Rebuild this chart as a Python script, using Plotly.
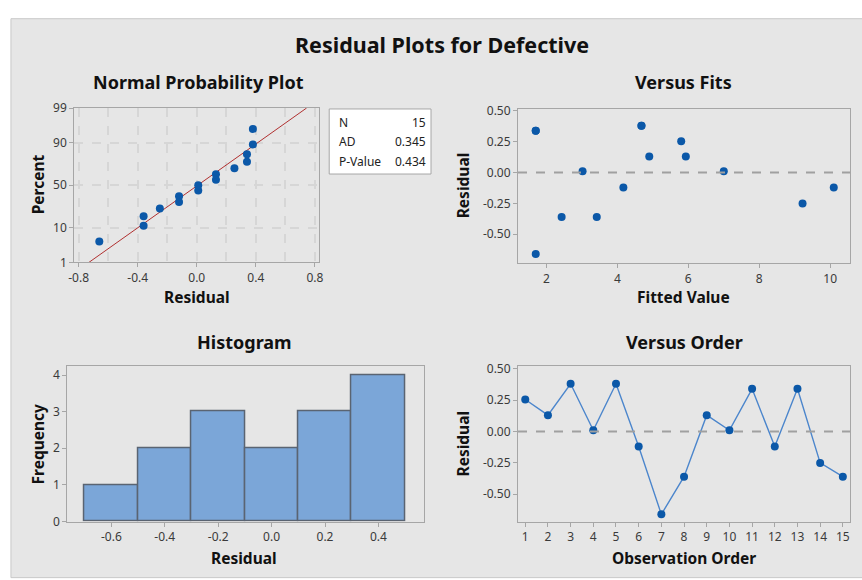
import plotly.graph_objects as go
from statistics import NormalDist, mean, stdev

# ---------------- data ----------------
order = list(range(1, 16))
residuals = [0.255, 0.13, 0.38, 0.01, 0.38, -0.12, -0.66, -0.36, 0.13, 0.01, 0.34, -0.12, 0.34, -0.25, -0.36]
fitted = [5.80, 4.90, 4.68, 3.02, 4.68, 4.17, 1.70, 2.43, 5.93, 7.00, 1.70, 10.10, 1.70, 9.22, 3.42]
prob_percent = [4.5, 11.0, 17.5, 24.0, 30.5, 37.0, 43.5, 50.0, 56.5, 63.0, 69.5, 76.0, 82.5, 89.0, 95.5]
pct_ticks = [1, 10, 50, 90, 99]
stats_labels = ["N", "AD", "P-Value"]
stats_values = ["15", "0.345", "0.434"]

W, H = 862, 580
nd = NormalDist()


def px(x):
    return x / W


def py(y):
    return 1 - y / H


def fmt(v, d):
    return f"{v:.{d}f}"


BLUE = "#0B58A8"
TICKFONT = dict(family="Noto Sans, Open Sans, sans-serif", size=12, color="#3A3A3A")
TITLEFONT = "Noto Sans, Open Sans, sans-serif"
FRAME = "#A6A6A6"
GRID = "#D6D6D6"

fig = go.Figure()

# ---- Normal probability plot ----
xs = sorted(residuals)
zs = [nd.inv_cdf(p / 100) for p in prob_percent]
mu, sd = mean(residuals), stdev(residuals)
zline = [nd.inv_cdf(0.01), nd.inv_cdf(0.99)]
fig.add_trace(go.Scatter(x=[mu + sd * z for z in zline], y=zline, mode="lines",
                         line=dict(color="#B03030", width=1), xaxis="x", yaxis="y",
                         showlegend=False, hoverinfo="skip"))
fig.add_trace(go.Scatter(x=xs, y=zs, mode="markers", marker=dict(color=BLUE, size=8),
                         xaxis="x", yaxis="y", showlegend=False))

# ---- Versus fits ----
fig.add_trace(go.Scatter(x=fitted, y=residuals, mode="markers", marker=dict(color=BLUE, size=8),
                         xaxis="x2", yaxis="y2", showlegend=False))

# ---- Histogram ----
fig.add_trace(go.Histogram(x=residuals, xbins=dict(start=-0.7, end=0.5, size=0.2),
                           marker=dict(color="#7BA6D8", line=dict(color="#5A6472", width=1.5)),
                           xaxis="x3", yaxis="y3", showlegend=False))

# ---- Versus order ----
fig.add_trace(go.Scatter(x=order, y=residuals, mode="lines+markers",
                         line=dict(color="#4C86CC", width=1.4),
                         marker=dict(color=BLUE, size=8),
                         xaxis="x4", yaxis="y4", showlegend=False))

ax_common = dict(showline=True, linecolor=FRAME, linewidth=1, mirror=True, ticks="outside",
                 ticklen=4, tickcolor=FRAME, tickfont=TICKFONT, zeroline=False, showgrid=False)
grid_on = {"showgrid": True, "gridcolor": GRID, "griddash": "dash", "gridwidth": 1.5}

tl_x = [-0.8, -0.4, 0.0, 0.4, 0.8]
res_ticks = [0.5, 0.25, 0.0, -0.25, -0.5]
hist_x = [-0.6, -0.4, -0.2, 0.0, 0.2, 0.4]

fig.update_layout(
    width=W, height=H, margin=dict(l=0, r=0, t=0, b=0),
    paper_bgcolor="white", plot_bgcolor="white",
    xaxis=dict(domain=[px(69), px(317)], anchor="y", range=[-0.83, 0.83],
               tickvals=tl_x, ticktext=[fmt(v, 1) for v in tl_x],
               minor=dict(dtick=0.2, tick0=0, showgrid=True, gridcolor=GRID,
                          griddash="dash", gridwidth=1.5, ticks=""),
               **{**ax_common, **grid_on}),
    yaxis=dict(domain=[py(261), py(102)], anchor="x",
               range=[nd.inv_cdf(0.01), nd.inv_cdf(0.99)],
               tickvals=[nd.inv_cdf(p / 100) for p in pct_ticks],
               ticktext=[str(p) for p in pct_ticks],
               **{**ax_common, **grid_on}),
    xaxis2=dict(domain=[px(518), px(854)], anchor="y2", range=[1.2, 10.56],
                tickvals=[2, 4, 6, 8, 10], **ax_common),
    yaxis2=dict(domain=[py(262), py(103)], anchor="x2", range=[-0.736, 0.516],
                tickvals=res_ticks, ticktext=[fmt(v, 2) for v in res_ticks], **ax_common),
    xaxis3=dict(domain=[px(62), px(423)], anchor="y3", range=[-0.765, 0.571],
                tickvals=hist_x, ticktext=[fmt(v, 1) for v in hist_x], **ax_common),
    yaxis3=dict(domain=[py(528), py(368)], anchor="x3", range=[0, 4.24],
                tickvals=[0, 1, 2, 3, 4], **ax_common),
    xaxis4=dict(domain=[px(518), px(854)], anchor="y4", range=[0.68, 15.32],
                tickvals=order, **ax_common),
    yaxis4=dict(domain=[py(528), py(368)], anchor="x4", range=[-0.717, 0.52],
                tickvals=res_ticks, ticktext=[fmt(v, 2) for v in res_ticks], **ax_common),
    bargap=0,
)

shapes = [
    dict(type="rect", xref="paper", yref="paper", x0=px(5), x1=1.01, y0=-0.01, y1=py(10),
         fillcolor="#E6E6E6", line=dict(color="#C8C8C8", width=1), layer="below"),
    dict(type="rect", xref="paper", yref="paper", x0=px(327), x1=px(430), y0=py(170), y1=py(103),
         fillcolor="white", line=dict(color="#A6A6A6", width=1)),
    dict(type="line", xref="x2 domain", yref="y2", x0=0, x1=1, y0=0, y1=0,
         line=dict(color="#A0A0A0", width=2, dash="dash")),
    dict(type="line", xref="x4 domain", yref="y4", x0=0, x1=1, y0=0, y1=0,
         line=dict(color="#A0A0A0", width=2, dash="dash")),
]
fig.update_layout(shapes=shapes)

ann = []


def text(x, y, s, size, bold=True, angle=0, xanchor="center", color="#111111"):
    ann.append(dict(x=px(x), y=py(y), xref="paper", yref="paper", text=f"<b>{s}</b>" if bold else s,
                    showarrow=False, xanchor=xanchor, yanchor="middle", textangle=angle,
                    font=dict(family=TITLEFONT, size=size, color=color)))


text(441, 37, "Residual Plots for Defective", 21.5)
text(195, 75, "Normal Probability Plot", 18)
text(685, 75, "Versus Fits", 18)
text(241, 343, "Histogram", 18)
text(686, 343, "Versus Order", 18)

text(32, 181, "Percent", 15.5, angle=-90)
text(193, 297, "Residual", 15.5)
text(462, 182, "Residual", 15.5, angle=-90)
text(685, 297, "Fitted Value", 15.5)
text(32, 448, "Frequency", 15.5, angle=-90)
text(241, 566, "Residual", 15.5)
text(462, 448, "Residual", 15.5, angle=-90)
text(686, 566, "Observation Order", 15.5)

for i, (lab, val) in enumerate(zip(stats_labels, stats_values)):
    yy = 117 + 20 * i
    text(335, yy, lab, 12, bold=False, xanchor="left", color="#222222")
    text(427, yy, val, 12, bold=False, xanchor="right", color="#222222")

fig.update_layout(annotations=ann)

post = (
    "document.documentElement.style.margin='0';document.documentElement.style.padding='0';"
    "document.body.style.margin='0';document.body.style.padding='0';"
    "document.documentElement.style.overflow='hidden';document.body.style.overflow='hidden';"
)
fig.write_html("out.html", config={"displayModeBar": False}, post_script=post)
